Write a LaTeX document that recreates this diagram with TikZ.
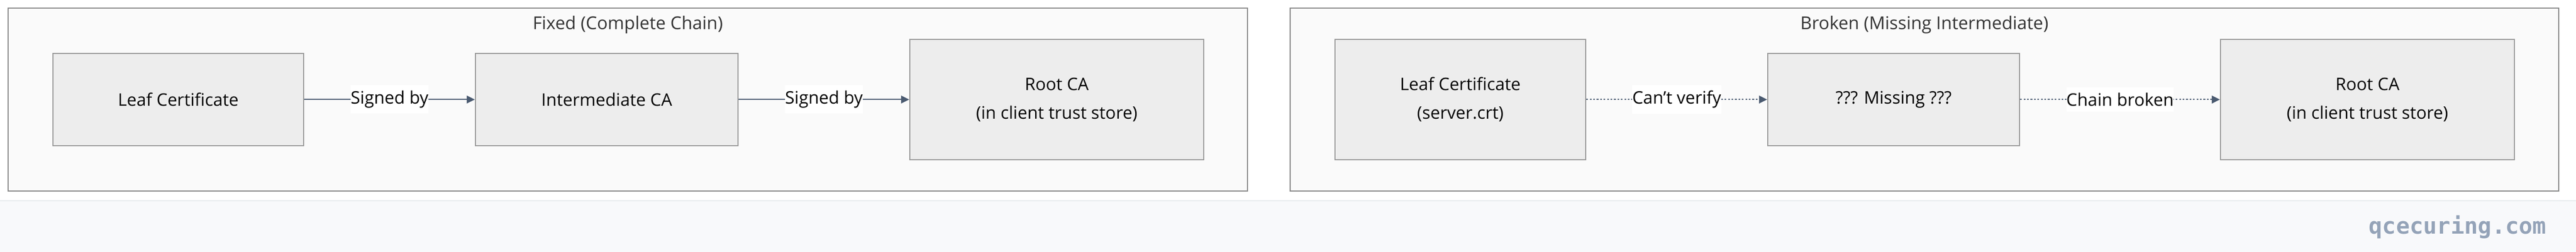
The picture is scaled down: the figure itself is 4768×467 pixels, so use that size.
\documentclass[tikz,border=0pt]{standalone}
\usepackage{fontspec}
\setmainfont{Open Sans}
\newfontfamily\wmfont{DejaVu Sans Mono}
\usetikzlibrary{arrows.meta}
\definecolor{framefill}{HTML}{FAFAFA}
\definecolor{framedraw}{HTML}{888888}
\definecolor{boxfill}{HTML}{EDEDED}
\definecolor{boxdraw}{HTML}{999999}
\definecolor{edgecol}{HTML}{4A5A70}
\definecolor{titlecol}{HTML}{333333}
\definecolor{bandfill}{HTML}{F8F9FB}
\definecolor{bandline}{HTML}{E8EBEF}
\definecolor{wmcol}{HTML}{94A3B8}
\tikzset{
  frame/.style={draw=framedraw, fill=framefill, line width=0.5pt},
  cert/.style={draw=boxdraw, fill=boxfill, line width=0.6pt, rectangle, inner sep=0pt, align=center, font=\fontsize{8}{13.25}\selectfont},
  edge/.style={draw=edgecol, line width=0.5pt, -{Triangle[length=3.75pt, width=3.6pt]}},
  brokenedge/.style={edge, dash pattern=on 0.8pt off 0.8pt},
  lbl/.style={fill=white, inner xsep=0pt, inner ysep=2.5pt, font=\fontsize{8}{10}\selectfont, text=black},
  ttl/.style={font=\fontsize{8.2}{10}\selectfont, text=titlecol, anchor=base}
}
\begin{document}
\begin{tikzpicture}[x=0.25pt, y=-0.25pt]
\useasboundingbox (0,0) rectangle (4768,467);
\fill[white] (0,0) rectangle (4768,467);
% bottom band
\fill[bandfill] (0,372) rectangle (4768,467);
\draw[bandline, line width=0.3pt] (0,372) -- (4768,372);
\node[font=\wmfont\bfseries\fontsize{10.5}{12}\selectfont, text=wmcol, anchor=base east, inner sep=0pt] (wm) at (4714,434) {qcecuring.com};
% frames
\draw[frame] (15,15) rectangle (2309,354);
\draw[frame] (2388,15) rectangle (4736,354);
\node[ttl] (t1) at (1162,55) {Fixed (Complete Chain)};
\node[ttl] (t2) at (3562,55) {Broken (Missing Intermediate)};
% fixed chain
\node[cert, minimum width=464*0.25pt, minimum height=171*0.25pt] (leafA) at (330,184.5) {Leaf Certificate};
\node[cert, minimum width=486*0.25pt, minimum height=171*0.25pt] (interA) at (1123,184.5) {Intermediate CA};
\node[cert, minimum width=544*0.25pt, minimum height=223*0.25pt] (rootA) at (1956,184.5) {Root CA\\(in client trust store)};
\draw[edge] (leafA) -- node[lbl] {Signed by} (interA);
\draw[edge] (interA) -- node[lbl] {Signed by} (rootA);
% broken chain
\node[cert, minimum width=464*0.25pt, minimum height=223*0.25pt] (leafB) at (2703,184.5) {Leaf Certificate\\(server.crt)};
\node[cert, minimum width=466*0.25pt, minimum height=171*0.25pt] (missB) at (3505,184.5) {??? Missing ???};
\node[cert, minimum width=544*0.25pt, minimum height=223*0.25pt] (rootB) at (4382,184.5) {Root CA\\(in client trust store)};
\draw[brokenedge] (leafB) -- node[lbl] {Can't verify} (missB);
\draw[brokenedge] (missB) -- node[lbl] {Chain broken} (rootB);
\end{tikzpicture}
\end{document}
